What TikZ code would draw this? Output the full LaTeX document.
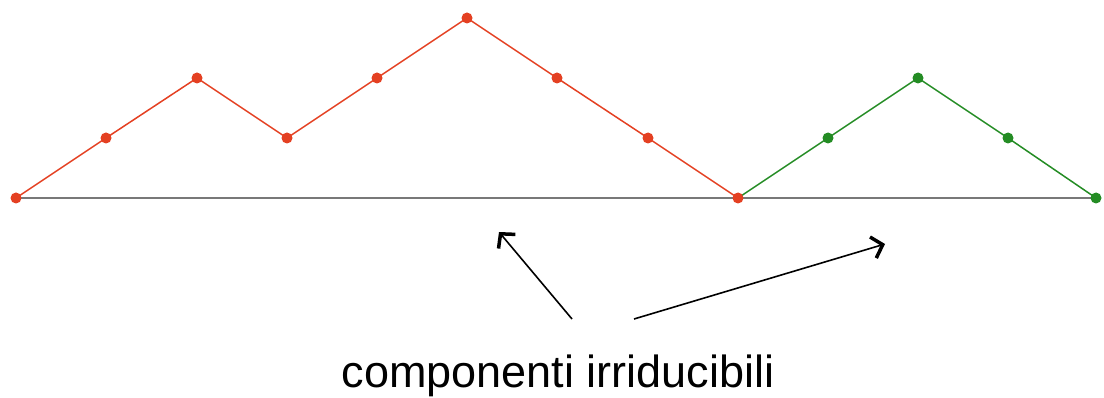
\documentclass[tikz,border=0pt]{standalone}
\usepackage{fontspec}
\setmainfont{Liberation Sans}
\usetikzlibrary{arrows.meta}
\definecolor{pathred}{RGB}{228,64,34}
\definecolor{pathgreen}{RGB}{36,140,36}
\definecolor{axisgray}{RGB}{120,120,120}

\begin{document}
\begin{tikzpicture}[x=1pt,y=-1pt,>={Straight Barb[length=10pt,width=22pt,line width=3.5pt]}]
  \useasboundingbox (0,0) rectangle (1104,398);
  % lattice path points
  \foreach \i/\x/\y in {0/16/198,1/106/138,2/197/78,3/287/138,4/377/78,5/467/18,
      6/557/78,7/648/138,8/738/198,9/828/138,10/918/78,11/1008/138,12/1096/198}
    \coordinate (P\i) at (\x,\y);
  \draw[axisgray,line width=1.6pt] (P0)--(P12);
  \draw[pathred,line width=1.5pt] (P0)--(P1)--(P2)--(P3)--(P4)--(P5)--(P6)--(P7)--(P8);
  \draw[pathgreen,line width=1.5pt] (P8)--(P9)--(P10)--(P11)--(P12);
  \foreach \i in {9,...,12} \fill[pathgreen] (P\i) circle(5.5pt);
  \foreach \i in {0,...,8} \fill[pathred] (P\i) circle(5.5pt);
  % label and arrows
  \node[anchor=base,inner sep=0pt,font=\fontsize{45}{54}\selectfont] (lbl) at (558,387) {componenti irriducibili};
  \coordinate (S1) at (572,319);
  \coordinate (E1) at (499,232);
  \coordinate (S2) at (634,319);
  \coordinate (E2) at (885,244);
  \draw[->,line width=1.6pt] (S1)--(E1);
  \draw[->,line width=1.6pt] (S2)--(E2);
\end{tikzpicture}
\end{document}
